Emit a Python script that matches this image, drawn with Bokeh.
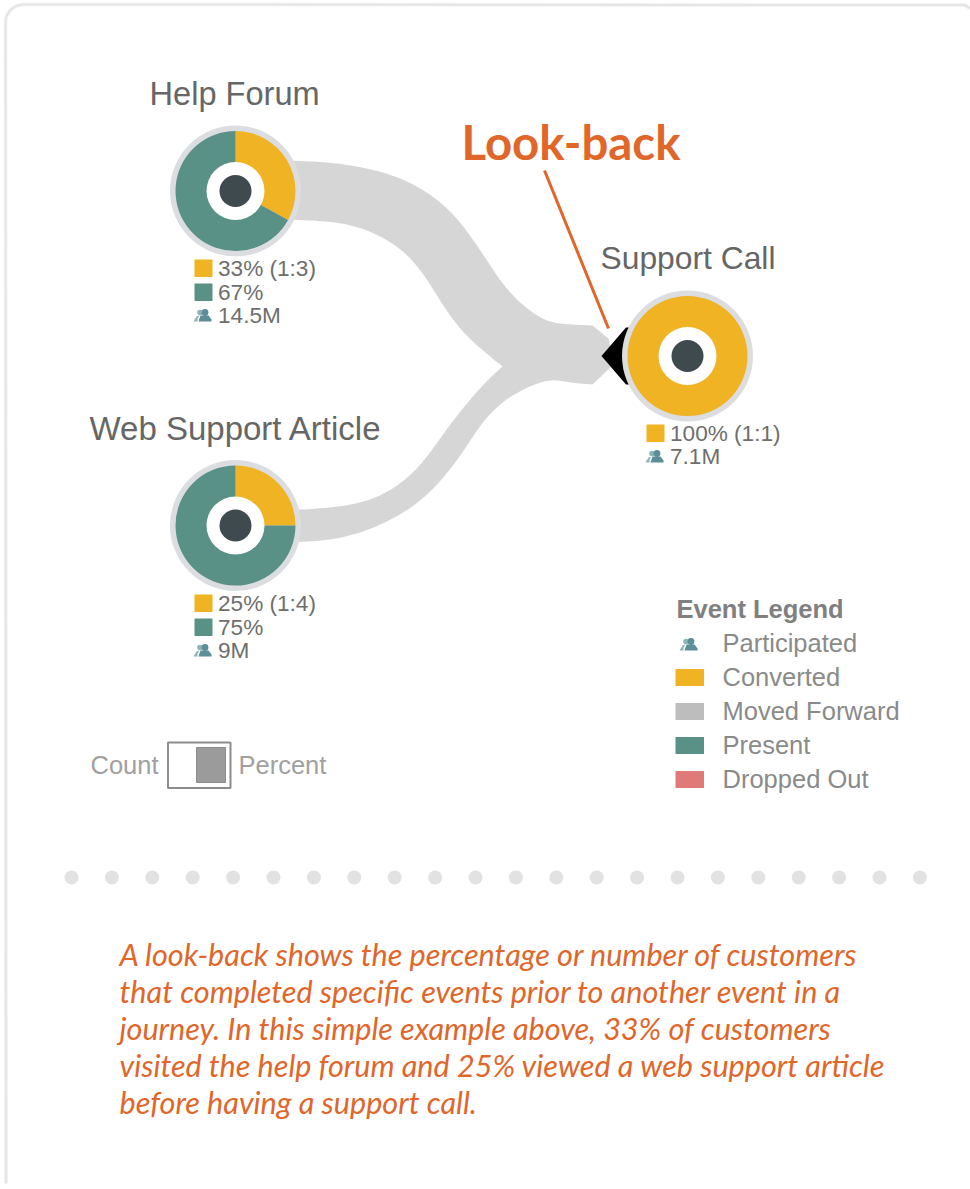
import numpy as np
from bokeh.plotting import figure
from bokeh.models import Range1d
from bokeh.core.properties import value
from bokeh.embed import file_html
from bokeh.resources import INLINE

# ---------- data ----------
node_names = ["Help Forum", "Web Support Article", "Support Call"]
converted_pct = [33, 25, 100]
present_pct = [67, 75, 0]
ratio_labels = ["33% (1:3)", "25% (1:4)", "100% (1:1)"]
present_labels = ["67%", "75%", None]
participants = ["14.5M", "9M", "7.1M"]
legend_title = "Event Legend"
legend_items = ["Participated", "Converted", "Moved Forward", "Present", "Dropped Out"]
toggle_labels = ["Count", "Percent"]
headline = "Look-back"
paragraph = [
    "A look-back shows the percentage or number of customers",
    "that completed specific events prior to another event in a",
    "journey. In this simple example above, 33% of customers",
    "visited the help forum and 25% viewed a web support article",
    "before having a support call.",
]

# ---------- style / layout ----------
YEL, TEAL, GREY, RED = "#f0b323", "#5a9187", "#bdbdbd", "#e07a78"
ORANGE = "#e0662a"
RIBBON = "#d6d6d6"
LIB = value("Liberation Sans")
LATO = value("Lato")
centers = [(235, 190.5), (235, 525), (687, 355.5)]

p = figure(width=970, height=1189, output_backend="svg", toolbar_location=None,
           x_range=Range1d(0, 970), y_range=Range1d(1189, 0), min_border=0,
           outline_line_color=None, background_fill_color="white", border_fill_color="white")
p.axis.visible = False
p.grid.visible = False

# card frame
arc_t = np.linspace(np.pi, 1.5 * np.pi, 12)
fx = [5.5] + list(23 + 18 * np.cos(arc_t)) + [964, 970]
fy = [1183] + list(22 + 18 * np.sin(arc_t)) + [4.5, 8]
p.line(fx, fy, line_color="#f3f3f3", line_width=4)
p.line(fx, fy, line_color="#e2e2e2", line_width=1.5)


def smooth(pts, n=14, win=25):
    """Catmull-Rom curve through way-points, then low-pass filtered."""
    a = np.array(pts, dtype=float)
    a = np.vstack([2 * a[0] - a[1], a, 2 * a[-1] - a[-2]])
    out = []
    for i in range(1, len(a) - 2):
        t = np.linspace(0, 1, n, endpoint=False)[:, None]
        p0, p1, p2, p3 = a[i - 1], a[i], a[i + 1], a[i + 2]
        out.append(0.5 * (2 * p1 + (p2 - p0) * t + (2 * p0 - 5 * p1 + 4 * p2 - p3) * t ** 2
                          + (3 * p1 - p0 - 3 * p2 + p3) * t ** 3))
    out.append(a[-2][None, :])
    c = np.vstack(out)
    k = np.hanning(win)
    k /= k.sum()
    h = win // 2
    head = 2 * c[0] - c[1:h + 1][::-1]
    tail = 2 * c[-1] - c[-h - 1:-1][::-1]
    pad = np.vstack([head, c, tail])
    return np.column_stack([np.convolve(pad[:, j], k, mode="valid") for j in (0, 1)])


# ribbons
up_top = smooth([(285, 160), (340, 163), (400, 177), (447, 207), (480, 250), (507, 290), (540, 318), (565, 323.5), (592, 325)])
up_bot = smooth([(285, 219), (347, 223), (393, 243), (423, 273), (457, 327), (502, 366)])
lo_top = smooth([(285, 510), (363, 503), (413, 473), (447, 427), (480, 387), (502, 366)])
lo_bot = smooth([(285, 542), (347, 537), (413, 507), (457, 460), (493, 407), (543, 380), (567, 382), (592, 384)])
# upper ribbon + tip + lower ribbon drawn as one shape round the fork
outline = np.vstack([up_top, [(608, 338), (612, 355), (610, 367)], lo_bot[::-1], lo_top, up_bot[::-1]])
p.patch(outline[:, 0], outline[:, 1], fill_color=RIBBON, line_color=None)

# arrow head
p.patch([601, 625.5, 630, 630, 625.5], [355.5, 327, 327, 384, 384], fill_color="black", line_color=None)

# donuts
for (cx, cy), c, q in zip(centers, converted_pct, present_pct):
    p.circle([cx], [cy], radius=65.5, fill_color="#dcdde0", line_color=None)
    shares = np.array([c, q], dtype=float) / 100
    start = np.pi / 2 - np.concatenate([[0], np.cumsum(shares)[:-1]]) * 2 * np.pi
    end = start - shares * 2 * np.pi
    for s, e, col, sh in zip(start, end, [YEL, TEAL], shares):
        if sh <= 0:
            continue
        if sh >= 1:
            p.circle([cx], [cy], radius=60, fill_color=col, line_color=None)
        else:
            p.wedge([cx], [cy], radius=60, start_angle=e, end_angle=s,
                    fill_color=col, line_color=None)
    p.circle([cx], [cy], radius=29, fill_color="white", line_color=None)
    p.circle([cx], [cy], radius=16, fill_color="#3f4a4e", line_color=None)


def people(cx, cy):
    col = "#5b8e96"
    light = "#8fb2b8"
    p.circle([cx - 2.5], [cy - 3], radius=2.8, fill_color=light, line_color=None)
    p.circle([cx + 2.5], [cy - 3], radius=3.4, fill_color=col, line_color=None)
    p.patch([cx - 4, cx - 2, cx + 6, cx + 9, cx + 9, cx - 4],
            [cy + 6, cy, cy, cy + 4, cy + 6, cy + 6], fill_color=col, line_color=None)
    p.patch([cx - 9, cx - 6, cx - 3, cx - 5, cx - 5, cx - 9],
            [cy + 6, cy + 1, cy, cy + 3, cy + 6, cy + 6], fill_color=light, line_color=None)


def label(x, y, s, size, color, font=LIB, style="normal"):
    p.text([x - 1], [y - 1], text=[s], text_font=font, text_font_size=f"{size}px", text_color=color,
           text_baseline="middle", text_align="left", text_font_style=style)


# node titles
title_col = "#666666"
title_x = [150, 90, 601]
title_y = [94, 429, 258]
title_size = [32.6, 33, 31.8]
for x, y, s, z in zip(title_x, title_y, node_names, title_size):
    label(x, y, s, z, title_col)

# node stats
val_col = "#6e6e6e"
stat_x = [194, 194, 646]
stat_y = [268, 603, 433]
for i, (sx, sy) in enumerate(zip(stat_x, stat_y)):
    tx = sx + 24.5
    p.quad(left=[sx], right=[sx + 18], top=[sy - 9], bottom=[sy + 8.5], fill_color=YEL, line_color=None)
    label(tx, sy + 1, ratio_labels[i], 22.6, val_col)
    row = sy + 24
    if present_labels[i]:
        p.quad(left=[sx], right=[sx + 18], top=[row - 9], bottom=[row + 8.5], fill_color=TEAL, line_color=None)
        label(tx, row + 1, present_labels[i], 22.6, val_col)
        row += 24
    people(sx + 8, row - 1)
    label(tx, row, participants[i], 22.6, val_col)

# headline
p.line([544, 608], [170, 328], line_color=ORANGE, line_width=3)
label(462, 142, headline, 47.4, ORANGE, font=LATO, style="bold")

# legend
leg_col = "#8a8a8a"
label(677, 609, legend_title, 25.5, "#808080", style="bold")
leg_y = [643, 677, 711, 745, 779]
leg_cols = [None, YEL, GREY, TEAL, RED]
for y, s, c in zip(leg_y, legend_items, leg_cols):
    label(723, y, s, 25.5, leg_col)
    if c:
        p.quad(left=[675], right=[703.5], top=[y - 8.5], bottom=[y + 8.5], fill_color=c, line_color=None)
    else:
        people(688, y + 1)

# toggle
label(91, 765, toggle_labels[0], 25.5, "#a0a0a0")
label(239, 765, toggle_labels[1], 25.5, "#a0a0a0")
p.quad(left=[167.5], right=[230], top=[742], bottom=[787.5], fill_color="white",
       line_color="#8c8c8c", line_width=2)
p.quad(left=[196], right=[225], top=[747], bottom=[782], fill_color="#9b9b9b",
       line_color="#8c8c8c", line_width=1)

# dotted separator
dots_x = list(71 + 40.4 * np.arange(22))
p.circle(dots_x, [877] * 22, radius=7, fill_color="#e2e2e2", line_color=None)

# paragraph
for i, s in enumerate(paragraph):
    label(120, 954.5 + 37.1 * i, s, 30.6, ORANGE, font=LATO, style="italic")

open("out.html", "w").write(file_html(p, INLINE))
